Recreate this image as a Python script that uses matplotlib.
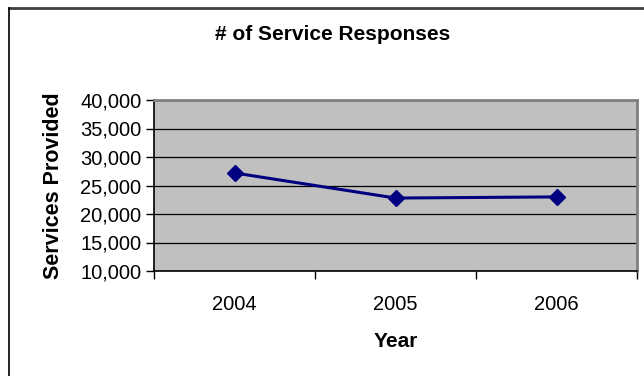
import matplotlib
matplotlib.use("Agg")
import matplotlib.pyplot as plt
from matplotlib.lines import Line2D
from matplotlib.ticker import FuncFormatter

years = ["2004", "2005", "2006"]
services = [27200, 22800, 23000]

plt.rcParams['font.family'] = ['Liberation Sans', 'DejaVu Sans']

W, H = 644, 376
fig = plt.figure(figsize=(W / 100, H / 100), dpi=100)
fig.patch.set_facecolor("white")

# plot area in pixel coordinates
left, right, top, bottom = 154, 637, 100, 271
ax = fig.add_axes([left / W, 1 - bottom / H, (right - left) / W, (bottom - top) / H])
ax.set_facecolor("#C0C0C0")

x = list(range(1, len(years) + 1))
ax.plot(x, services, color="#000080", linewidth=2.2, marker="D", markersize=8,
        markerfacecolor="#000080", markeredgecolor="#000080", zorder=3)

ax.set_xlim(0.5, len(years) + 0.5)
ax.set_ylim(10000, 40000)
ax.set_yticks(range(10000, 40001, 5000))
ax.yaxis.set_major_formatter(FuncFormatter(lambda v, p: f"{int(v):,}"))
ax.grid(axis="y", color="black", linewidth=0.9)
ax.set_axisbelow(True)

# category labels centered, tick marks between categories
ax.set_xticks(x)
ax.set_xticklabels(years)
ax.set_xticks([i + 0.5 for i in range(len(years) + 1)], minor=True)
ax.tick_params(axis="x", which="major", length=0, pad=17, labelsize=14.5)
ax.tick_params(axis="x", which="minor", length=6, width=1, direction="out")
ax.tick_params(axis="y", length=6, width=1, direction="out", labelsize=14.5, pad=3)

for side in ("left", "bottom"):
    ax.spines[side].set_color("black")
    ax.spines[side].set_linewidth(1.2)
for side in ("top", "right"):
    ax.spines[side].set_color("#808080")
    ax.spines[side].set_linewidth(2)

ax.set_xlabel("Year", fontsize=15, fontweight="bold", labelpad=13)
ax.set_ylabel("Services Provided", fontsize=15.5, fontweight="bold", labelpad=12)
fig.text(333 / W, 1 - 35 / H, "# of Service Responses", ha="center", va="center",
         fontsize=15, fontweight="bold")

# chart frame
fig.add_artist(Line2D([9 / W, 1], [1 - 8 / H, 1 - 8 / H], color="#404040", linewidth=2,
                      transform=fig.transFigure))
fig.add_artist(Line2D([9 / W, 9 / W], [0, 1 - 8 / H], color="black", linewidth=1.2,
                      transform=fig.transFigure))

fig.savefig("out.png", dpi=100)
